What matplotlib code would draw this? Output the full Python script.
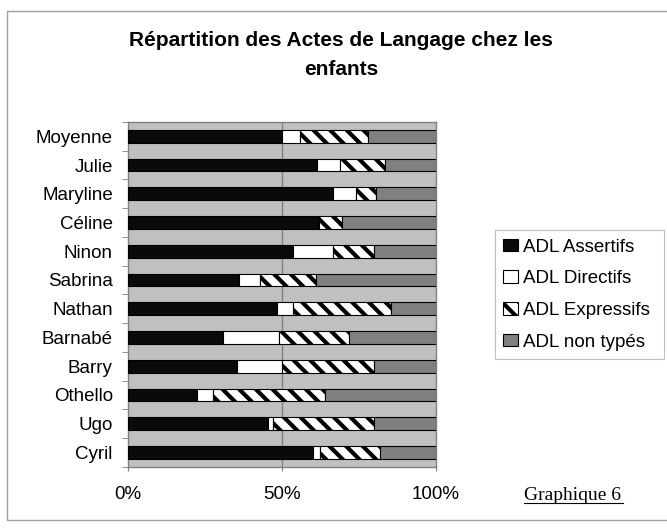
import numpy as np
import matplotlib
matplotlib.use('Agg')
import matplotlib.pyplot as plt
from matplotlib.patches import Rectangle
from matplotlib.lines import Line2D

# Données (en %), de haut en bas
enfants = ['Moyenne', 'Julie', 'Maryline', 'Céline', 'Ninon', 'Sabrina',
           'Nathan', 'Barnabé', 'Barry', 'Othello', 'Ugo', 'Cyril']
assertifs = [50, 61.5, 66.5, 62, 53.5, 36, 48.5, 31, 35.5, 22.5, 45.5, 60]
directifs = [6, 7.5, 7.5, 0, 13, 7, 5, 18, 14.5, 5, 1.5, 2.5]
expressifs = [22, 14.5, 6.5, 7.5, 13.5, 18, 32, 23, 30, 36.5, 33, 19.5]
non_types = [22, 16.5, 19.5, 30.5, 20, 39, 14.5, 28, 20, 36, 20, 18]

series = ['ADL Assertifs', 'ADL Directifs', 'ADL Expressifs', 'ADL non typés']
valeurs = [assertifs, directifs, expressifs, non_types]
couleurs = ['#0a0a0a', 'white', 'white', '#808080']
hachures = [None, None, '\\\\', None]

plt.rcParams['font.family'] = ['Liberation Sans', 'DejaVu Sans']
plt.rcParams['hatch.linewidth'] = 3.0
plt.rcParams['hatch.color'] = 'black'

fig = plt.figure(figsize=(6.67, 5.28), dpi=100)
ax = fig.add_axes([0.192, 0.116, 0.461, 0.653])
ax.set_facecolor('#c0c0c0')

y = np.arange(len(enfants))
gauche = np.zeros(len(enfants))
for nom, v, c, h in zip(series, valeurs, couleurs, hachures):
    v = np.array(v, dtype=float)
    ax.barh(y, v, left=gauche, height=0.44, color=c, hatch=h,
            edgecolor='black', linewidth=0.8, label=nom, zorder=3)
    gauche += v

ax.set_xlim(0, 100)
ax.set_ylim(len(enfants) - 0.5, -0.5)
ax.axvline(50, color='#808080', linewidth=1, zorder=1)

ax.set_xticks([0, 50, 100])
ax.set_xticklabels(['0%', '50%', '100%'], fontsize=13.5)
ax.tick_params(axis='x', length=3, pad=11, color='#808080')
ax.set_yticks(y)
ax.set_yticklabels(enfants, fontsize=13.5)
ax.tick_params(axis='y', length=0, pad=11)
ax.set_yticks(np.arange(-0.5, len(enfants), 1), minor=True)
ax.tick_params(axis='y', which='minor', length=4, color='#808080')
for s in ax.spines.values():
    s.set_color('#808080')
    s.set_linewidth(1)

# titre sur deux lignes
fig.text(0.511, 0.924, 'Répartition des Actes de Langage chez les',
         ha='center', va='center', fontsize=15, fontweight='bold')
fig.text(0.511, 0.869, 'enfants', ha='center', va='center',
         fontsize=15, fontweight='bold')

leg = ax.legend(loc='upper left', bbox_to_anchor=(0.742, 0.3, 0.253, 0.264),
                bbox_transform=fig.transFigure, mode='expand', borderaxespad=0,
                fontsize=13.5, frameon=True, fancybox=False, edgecolor='#b0b0b0',
                handlelength=0.8, handleheight=0.65, handletextpad=0.25,
                labelspacing=0.78, borderpad=0.45)
leg.get_frame().set_linewidth(0.8)

# Graphique 6, souligné
fig.text(0.859, 0.061, 'Graphique 6', ha='center', va='center',
         fontsize=14, family='Liberation Serif')
fig.add_artist(Line2D([0.786, 0.934], [0.047, 0.047], color='black',
                      linewidth=0.8, transform=fig.transFigure))

# cadre extérieur (le bord droit sort de l'image)
fig.add_artist(Rectangle((0.0105, 0.015), 1.0, 0.964, fill=False,
                         edgecolor='#a0a0a0', linewidth=1,
                         transform=fig.transFigure))

fig.savefig('out.png', dpi=100)
